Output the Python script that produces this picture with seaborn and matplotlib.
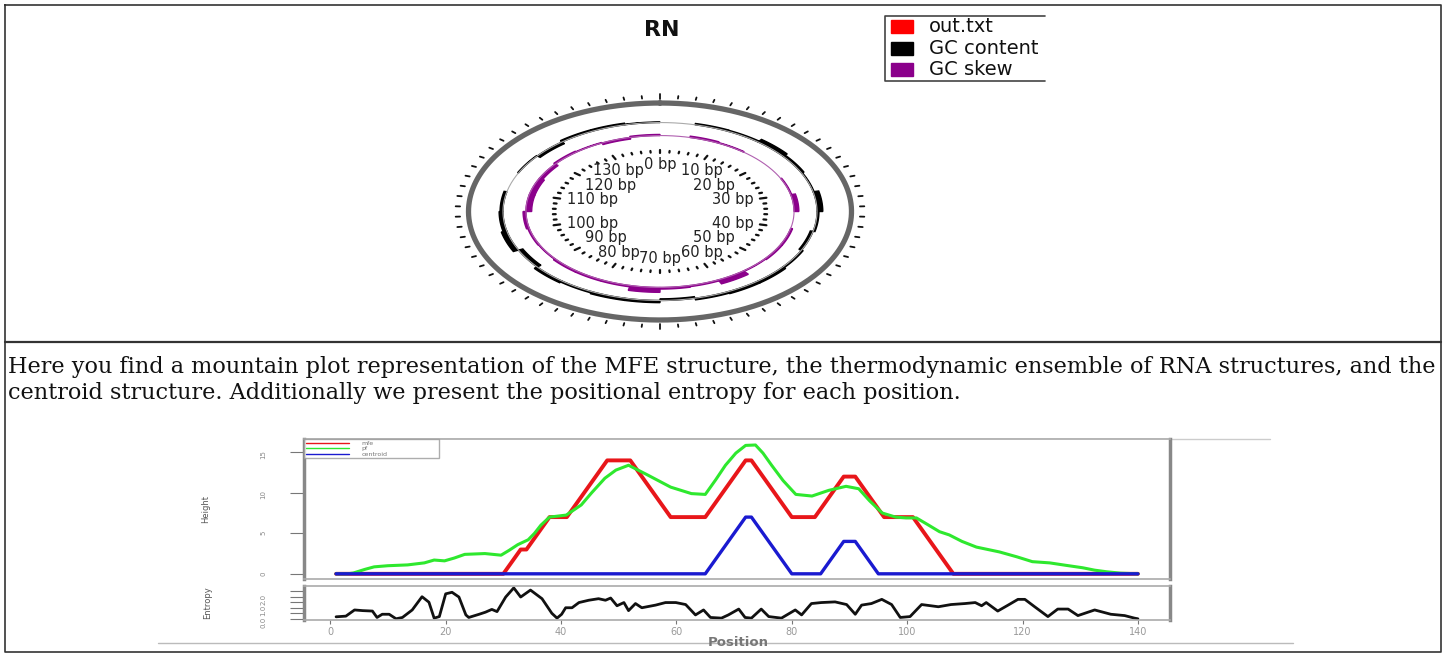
import numpy as np
import pandas as pd
import matplotlib
matplotlib.use("Agg")
import matplotlib.pyplot as plt
import seaborn as sns

W, H = 1447, 658

# ---- mountain plot data (position, height) ----
mfe_pos = [1, 30, 33, 34, 38, 41, 48, 52, 59, 65, 72, 73, 80, 84, 89, 91, 96, 101, 108, 140]
mfe_height = [0, 0, 3, 3, 7, 7, 14, 14, 7, 7, 14, 14, 7, 7, 12, 12, 7, 7, 0, 0]

centroid_pos = [1, 65, 72, 73, 80, 85, 89, 91, 95, 140]
centroid_height = [0, 0, 7, 7, 0, 0, 4, 4, 0, 0]

pf_pos = [1, 3, 4, 6, 7.6, 10, 13.4, 16.3, 18, 19.8, 21.5, 23.3, 26.8, 29.6, 31, 32.5, 34.3, 35.4,
          36.5, 38, 40.9, 43.5, 45.3, 47.6, 49.5, 51.7, 55, 59, 62.6, 65, 66.8, 68.5, 70.3, 72,
          73.7, 75, 76.5, 78.5, 80.7, 83.5, 86.4, 89.4, 91.6, 93.5, 95.7, 98, 99.8, 101.6, 103.5,
          105.6, 107.3, 109.5, 112, 116, 119, 121.7, 124.7, 127.5, 130.4, 132.5, 134.6, 137, 140]
pf_height = [0, 0, 0.1, 0.55, 0.86, 1.0, 1.1, 1.35, 1.7, 1.6, 1.95, 2.4, 2.5, 2.3, 2.9, 3.6, 4.2, 5.0,
             6.0, 7.0, 7.25, 8.5, 10.0, 11.8, 12.8, 13.4, 12.2, 10.7, 9.9, 9.8, 11.6, 13.4, 14.9, 15.85,
             15.9, 14.9, 13.4, 11.5, 9.8, 9.6, 10.3, 10.8, 10.5, 9.0, 7.5, 7.0, 6.9, 6.9, 6.1,
             5.2, 4.8, 4.0, 3.3, 2.7, 2.1, 1.5, 1.35, 1.05, 0.75, 0.45, 0.25, 0.08, 0]

entropy_pos = [1, 2.7, 4.2, 5.6, 7.3, 8.1, 9, 10.2, 11.4, 12.5, 14.2, 15.9, 17.1, 18, 18.9, 20, 21.1,
               22.3, 23.5, 24, 25.8, 26.9, 28, 28.9, 30.4, 31.8, 33, 34.7, 36.7, 38.4, 39.3, 40.1,
               40.8, 41.9, 43.1, 44.8, 46.5, 47.7, 48.6, 49.7, 50.9, 51.7, 52.9, 54, 56.4, 58.1,
               59.9, 61.6, 63.3, 64.7, 65.9, 67.8, 69, 70.8, 71.9, 73, 74.7, 76, 78.2, 80.6, 81.7,
               83.4, 85.1, 87.5, 89.5, 91, 92.1, 93.8, 95.6, 97.3, 98.8, 100.5, 102.5, 105.4, 107.6,
               110, 111.8, 112.9, 113.7, 115.7, 117.5, 119.2, 120.4, 122.1, 124.4, 126.1, 127.9,
               129.6, 132.5, 135.3, 137.7, 139.4, 140]
entropy_val = [0.18, 0.24, 0.8, 0.74, 0.7, 0.12, 0.41, 0.41, 0.0, 0.12, 0.8, 2.0, 1.5, 0.06, 0.2, 2.26, 2.4,
               1.97, 0.35, 0.12, 0.41, 0.6, 0.85, 0.65, 1.97, 2.8, 1.97, 2.6, 1.82, 0.5, 0.06, 0.41,
               1.0, 1.0, 1.47, 1.68, 1.82, 1.68, 1.88, 1.18, 1.47, 0.74, 1.38, 1.0, 1.24, 1.47,
               1.47, 1.29, 0.35, 0.8, 0.12, 0.06, 0.35, 0.88, 0.12, 0.06, 0.88, 0.2, 0.06, 0.8, 0.35,
               1.38, 1.47, 1.53, 1.29, 0.41, 1.24, 1.38, 1.76, 1.29, 0.12, 0.2, 1.29, 1.09, 1.29,
               1.38, 1.47, 1.18, 1.47, 0.7, 1.24, 1.76, 1.76, 1.09, 0.2, 0.88, 0.88,
               0.29, 0.8, 0.41, 0.29, 0.06, 0.0]

# ---- circular plot data (5 bp windows) ----
seq_len = 140
win_start = [0, 5, 10, 15, 20, 25, 30, 35, 40, 45, 50, 55, 60, 65,
             70, 75, 80, 85, 90, 95, 100, 105, 110, 115, 120, 125, 130, 135]
gc_content = [0, 0.012, 0.01, 0.03, 0.015, 0.005, 0.03, 0.01, -0.015, 0.01, 0.02, 0.02, 0.015, -0.015,
              0.02, 0.02, 0.012, 0.02, -0.025, 0.03, 0.02, 0.015, 0, 0.005, -0.02, 0.015, 0.015, 0.005]
gc_skew = [0, 0.012, 0.005, 0, 0, 0.005, 0.025, 0, 0.01, 0.01, 0.005, 0.04, 0.01, 0.015,
           0.045, 0.012, 0.012, 0.012, 0.005, 0.008, 0.015, -0.03, -0.03, -0.02, 0.01, 0.005, -0.015, 0.01]
bp_labels = [0, 10, 20, 30, 40, 50, 60, 70, 80, 90, 100, 110, 120, 130]

legend_names = ["out.txt", "GC content", "GC skew"]
legend_colors = ["#ff0000", "#000000", "#8b008b"]

text1 = ("Here you find a mountain plot representation of the MFE structure, the thermodynamic "
         "ensemble of RNA structures, and the")
text2 = "centroid structure. Additionally we present the positional entropy for each position."

sns.set_theme(style="white")
plt.rcParams['font.family'] = ['DejaVu Sans']

fig = plt.figure(figsize=(W / 100, H / 100), dpi=100)


def px_rect(l, t, r, b):
    return [l / W, 1 - b / H, (r - l) / W, (b - t) / H]


# background / table lines in pixel coords
bg = fig.add_axes([0, 0, 1, 1], zorder=0)
bg.set_xlim(0, W)
bg.set_ylim(H, 0)
bg.axis('off')
bg.plot([5, 1441, 1441, 5, 5], [5, 5, 652, 652, 5], color='#333333', lw=1.2)
bg.plot([5, 1441], [342, 342], color='#333333', lw=1.6)
bg.plot([303, 1270], [439, 439], color='#cccccc', lw=1)
bg.plot([158, 1293], [643, 643], color='#bbbbbb', lw=1)
bg.text(8, 367, text1, family='DejaVu Serif', fontsize=16.1, va='center', color='#111111')
bg.text(8, 393, text2, family='DejaVu Serif', fontsize=16.1, va='center', color='#111111')
bg.text(662, 30, 'RN', fontweight='bold', fontsize=16, ha='center', va='center', color='#111111')

# ---- circular plot ----
cx, cy, rx, ry = 660, 211.5, 191.5, 108.5
ax_c = fig.add_axes(px_rect(cx - 1.15 * rx, cy - 1.15 * ry, cx + 1.15 * rx, cy + 1.15 * ry), zorder=1)
ax_c.set_xlim(-1.15, 1.15)
ax_c.set_ylim(-1.15, 1.15)
ax_c.axis('off')


def arc(r, b0, b1, n=40):
    a = np.linspace(b0, b1, n) / seq_len * 2 * np.pi
    return r * np.sin(a), r * np.cos(a)


x, y = arc(1.0, 0, seq_len, 400)
ax_c.plot(x, y, color='#666666', lw=3.8)
for b in np.arange(0, seq_len, 2):
    r0, r1 = (1.035, 1.08) if b % 35 == 0 else (1.045, 1.068)
    a = b / seq_len * 2 * np.pi
    ax_c.plot([r0 * np.sin(a), r1 * np.sin(a)], [r0 * np.cos(a), r1 * np.cos(a)], color='#111111', lw=1.3)

x, y = arc(0.82, 0, seq_len, 400)
ax_c.plot(x, y, color='#aaaaaa', lw=0.8)
x, y = arc(0.70, 0, seq_len, 400)
ax_c.plot(x, y, color='#b060b0', lw=0.8)

for base, vals, col in [(0.82, gc_content, '#000000'), (0.70, gc_skew, '#8b008b')]:
    for s, v in zip(win_start, vals):
        if v == 0:
            continue
        x0, y0 = arc(base, s, s + 5)
        x1, y1 = arc(base + v, s + 5, s)
        ax_c.fill(np.concatenate([x0, x1]), np.concatenate([y0, y1]), color=col, lw=1.0, ec=col)

for b in np.arange(0, seq_len, 2):
    a = b / seq_len * 2 * np.pi
    r0, r1 = (0.535, 0.57) if b % 10 == 0 else (0.545, 0.56)
    ax_c.plot([r0 * np.sin(a), r1 * np.sin(a)], [r0 * np.cos(a), r1 * np.cos(a)], color='#111111', lw=1.6)

for b in bp_labels:
    a = b / seq_len * 2 * np.pi
    s, c = np.sin(a), np.cos(a)
    ha = 'right' if s > 0.5 else ('left' if s < -0.5 else 'center')
    va = 'top' if c > 0.5 else ('bottom' if c < -0.5 else 'center')
    ax_c.text(0.5 * s, 0.5 * c, f"{b} bp", ha=ha, va=va, fontsize=10.5, color='#222222')

# ---- legend of circular plot (clipped at right edge) ----
ax_l = fig.add_axes(px_rect(884, 15, 1045, 81), zorder=2)
ax_l.set_xlim(0, 161)
ax_l.set_ylim(66, 0)
ax_l.axis('off')
ax_l.plot([161, 0.5, 0.5, 161], [0.5, 0.5, 65.5, 65.5], color='#444444', lw=1.2, clip_on=False)
for i, (name, col) in enumerate(zip(legend_names, legend_colors)):
    yc = [11.7, 33.3, 54.3][i]
    ax_l.add_patch(plt.Rectangle((7, yc - 6.5), 22, 13, color=col))
    ax_l.text(45, yc, name, fontsize=14, va='center', ha='left', color='#111111', clip_on=True)

# ---- mountain plot ----
ax_m = fig.add_axes(px_rect(304, 439, 1170, 579), zorder=1)
ax_e = fig.add_axes(px_rect(304, 586, 1170, 620), zorder=1)

sns.lineplot(x=mfe_pos, y=mfe_height, ax=ax_m, color='#e8161a', lw=2.8, label='mfe')
sns.lineplot(x=pf_pos, y=pf_height, ax=ax_m, color='#2ee82e', lw=2.2, label='pf')
sns.lineplot(x=centroid_pos, y=centroid_height, ax=ax_m, color='#1a1ad0', lw=2.4, label='centroid')
sns.lineplot(x=entropy_pos, y=entropy_val, ax=ax_e, color='#111111', lw=2.0)

for ax in (ax_m, ax_e):
    ax.set_xlim(-4.56, 145.56)
    ax.set_facecolor('white')
    for side in ('left', 'right'):
        ax.spines[side].set(color='#888888', lw=2.5)
    for side in ('top', 'bottom'):
        ax.spines[side].set(color='#aaaaaa', lw=1.2)
    ax.tick_params(axis='y', left=True, length=10, width=0.8, color='#777777', labelsize=5,
                   labelcolor='#888888', pad=17, labelrotation=90)

ax_m.set_ylim(-0.64, 16.64)
ax_m.set_xticks([])
ax_m.set_yticks([0, 5, 10, 15])
ax_m.set_ylabel('Height', fontsize=6, color='#555555')
ax_m.yaxis.set_label_coords(-0.108, 0.5)

ax_e.set_ylim(-0.11, 2.97)
ax_e.set_yticks([0, 0.5, 1.0, 1.5, 2.0, 2.5])
ax_e.set_yticklabels(['0.0', '', '1.0', '', '2.0', ''])
ax_e.set_xticks([0, 20, 40, 60, 80, 100, 120, 140])
ax_e.tick_params(axis='x', bottom=True, length=3, width=0.8, color='#777777', labelsize=7,
                 labelcolor='#999999', pad=2)
ax_e.set_ylabel('Entropy', fontsize=6, color='#555555')
ax_e.yaxis.set_label_coords(-0.106, 0.5)
ax_e.set_xlabel('Position', fontsize=9.5, fontweight='bold', color='#777777')
ax_e.xaxis.set_label_coords(0.501, -0.47)

leg = ax_m.legend(loc='upper left', bbox_to_anchor=(0, 1, 0.156, 0), mode='expand', fontsize=4.5,
                  frameon=True, fancybox=False, edgecolor='#999999', borderaxespad=0,
                  handlelength=7, labelspacing=0.0, borderpad=0.25, handletextpad=2)
leg.get_frame().set_linewidth(1)
for ln in leg.get_lines():
    ln.set_linewidth(1)
for t in leg.get_texts():
    t.set_color('#777777')

fig.savefig('out.png', dpi=100, facecolor='white')
